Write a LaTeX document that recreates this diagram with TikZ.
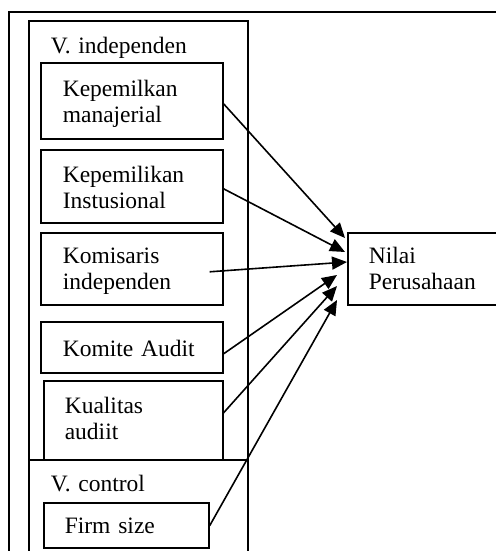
\documentclass[tikz,border=0pt]{standalone}
\usepackage{fontspec}
\setmainfont{Liberation Serif}
\usetikzlibrary{arrows.meta}
\begin{document}
\begin{tikzpicture}[x=1pt,y=-1pt,line width=1.6pt,
  box/.style={draw,rectangle,inner sep=0pt,anchor=north west},
  txt/.style={anchor=base west,inner sep=0pt,align=left,text width=170pt,
    font=\fontsize{23.5}{26.5}\selectfont},
  arr/.style={-{Triangle[length=15pt,width=13pt]},line width=1.6pt}]
\useasboundingbox (0,0) rectangle (495,551);
% frames
\node[box,minimum width=540pt,minimum height=580pt] (frame) at (8,11) {};
\node[box,minimum width=219pt,minimum height=580pt] (indep) at (28,20) {};
\node[box,minimum width=219pt,minimum height=120pt] (ctrl) at (28,459) {};
\node[txt] (tindep) at (50,53) {V. independen};
\node[txt] (tctrl) at (50,491) {V. control};
% boxes
\node[box,minimum width=182pt,minimum height=76pt] (b1) at (40,62) {};
\node[txt] (t1) at (62,96) {Kepemilkan\\manajerial};
\node[box,minimum width=182pt,minimum height=73pt] (b2) at (40,149) {};
\node[txt] (t2) at (62,182) {Kepemilikan\\Instusional};
\node[box,minimum width=182pt,minimum height=72pt] (b3) at (40,232) {};
\node[txt] (t3) at (62,263) {Komisaris\\independen};
\node[box,minimum width=182pt,minimum height=51pt] (b4) at (40,321) {};
\node[txt] (t4) at (62,356) {Komite Audit};
\node[box,minimum width=179pt,minimum height=79pt] (b5) at (43,380) {};
\node[txt] (t5) at (64,413) {Kualitas\\audiit};
\node[box,minimum width=165pt,minimum height=45pt] (b6) at (43,502) {};
\node[txt] (t6) at (64,533) {Firm size};
% target
\node[box,minimum width=200pt,minimum height=72pt] (nilai) at (347,232) {};
\node[txt] (tn) at (368,263) {Nilai\\Perusahaan};
% arrow ends
\coordinate (e1) at ([shift={(-2,6)}]nilai.north west);
\coordinate (e2) at ([shift={(-2,20)}]nilai.north west);
\coordinate (e3) at ([shift={(0,30)}]nilai.north west);
\coordinate (e4) at ([shift={(-10,43)}]nilai.north west);
\coordinate (e5) at ([shift={(-10,54)}]nilai.north west);
\coordinate (e6) at ([shift={(-10,68)}]nilai.north west);
\draw[arr] ([yshift=-3pt]b1.east) -- (e1);
\draw[arr] ([yshift=-2.5pt]b2.east) -- (e2);
\draw[arr] ([shift={(-14pt,-3pt)}]b3.east) -- (e3);
\draw[arr] ([yshift=-6.5pt]b4.east) -- (e4);
\draw[arr] ([yshift=7.5pt]b5.east) -- (e5);
\draw[arr] ([yshift=-0.5pt]b6.east) -- (e6);
\end{tikzpicture}
\end{document}
